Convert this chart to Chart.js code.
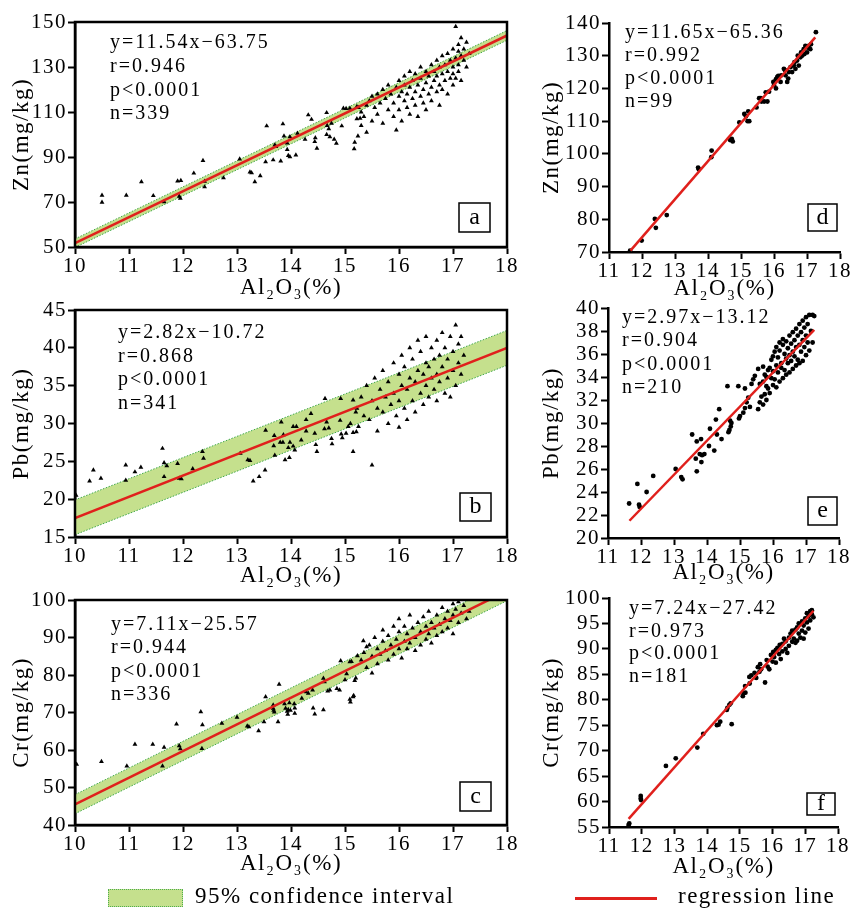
<!DOCTYPE html>
<html>
<head>
<meta charset="utf-8">
<script src="https://cdn.jsdelivr.net/npm/chart.js@4.4.1/dist/chart.umd.min.js"></script>
<style>
  body { margin: 0; background: #fff; width: 853px; height: 911px; position: relative; overflow: hidden; font-family: "Liberation Serif", "Times New Roman", serif; }
  canvas { position: absolute; }
  .key-text { position: absolute; font-size: 23px; letter-spacing: 1.5px; color: #000; white-space: nowrap; }
</style>
</head>
<body>
<canvas id="chartA" width="525" height="306" style="left:0;top:2px"></canvas>
<canvas id="chartB" width="525" height="306" style="left:0;top:290px"></canvas>
<canvas id="chartC" width="525" height="304" style="left:0;top:580px"></canvas>
<canvas id="chartD" width="323" height="306" style="left:530px;top:3px"></canvas>
<canvas id="chartE" width="323" height="305" style="left:530px;top:288px"></canvas>
<canvas id="chartF" width="323" height="309" style="left:530px;top:578px"></canvas>

<div style="position:absolute;left:108px;top:889px;width:73px;height:16px;background:#c5e08d;border:1px dotted #4fae4f"></div>
<div class="key-text" style="left:195px;top:883px">95% confidence interval</div>
<div style="position:absolute;left:575px;top:897px;width:82px;height:3px;background:#e0201c"></div>
<div class="key-text" style="left:678px;top:883px">regression line</div>

<script>
// ---- data: [Al2O3 %, metal mg/kg] ----
const xTitle = "Al\u2082O\u2083(%)";

// (a) Zn, all samples
const znAll = [
  [10.5,73],[10.5,69.9],[10.95,73],[11.23,79],[11.45,72.8],[11.65,70.1],[11.9,79.3],[11.96,79.5],[11.95,71.6],[11.93,72.5],
  [12.2,82.8],[12.37,88.4],[12.4,79.2],[12.4,76.7],[12.75,80.7],[13.05,89.1],[13.24,83.3],[13.27,83],[13.33,79],[13.43,81.6],
  [13.55,103.8],[13.53,87.9],[13.67,88.7],[13.7,95.3],[13.72,94.6],[13.81,88.2],[13.85,104.7],[13.87,99.3],[13.93,96.2],[13.93,93.3],
  [13.95,90.6],[13.98,99],[13.98,90.1],[14.09,90.9],[14.12,100.5],[14.26,97.9],[14.32,108.7],[14.38,106.7],[14.44,96.8],[14.48,93.9],
  [14.45,98.5],[14.66,109.7],[14.67,104],[14.66,100],[14.72,99],[14.8,97.9],[14.84,96.1],[14.94,103.8],[14.97,111.6],[15.02,111.5],
  [15.09,111.6],[15.17,93.6],[15.18,96.5],[15.22,112.4],[15.24,99.3],[15.28,107.2],[15.22,107],[14.7,102.5],[14.75,105],
  [15.25,112],[15.3,110],[15.35,108],[15.4,113],[15.45,115],[15.3,104],[15.4,101],[15.5,106],[15.5,117],
  [15.55,112],[15.6,118],[15.6,109],[15.65,114],[15.7,120],[15.7,105],[15.75,116],[15.8,111],[15.8,122],[15.85,118],
  [15.9,108],[15.9,114],[15.95,121],[15.95,102],[16.0,117],[16.0,111],[16.0,124],
  [16.05,119],[16.05,106],[16.1,115],[16.1,122],[16.1,126],[16.15,112],[16.15,118],[16.2,121],[16.2,109],[16.2,128],
  [16.25,116],[16.25,124],[16.3,119],[16.3,113],[16.3,127],[16.35,122],[16.35,108],[16.4,117],[16.4,125],[16.4,130],
  [16.45,120],[16.45,114],[16.5,123],[16.5,128],[16.5,111],
  [16.55,118],[16.55,126],[16.6,121],[16.6,131],[16.6,115],[16.65,124],[16.65,128],[16.7,119],[16.7,133],[16.7,126],
  [16.75,122],[16.75,130],[16.75,113],[16.8,127],[16.8,135],[16.8,120],[16.85,124],[16.85,131],[16.9,128],[16.9,136],
  [16.9,118],[16.95,125],[16.95,133],[17.0,130],[17.0,138],[17.0,122],[17.0,127],
  [17.05,148],[17.05,134],[17.05,125],[17.1,140],[17.1,131],[17.1,137],[17.1,128],[17.15,135],[17.15,143],[17.15,124],
  [17.2,138],[17.2,133],[17.25,141],[17.25,130],[17.3,136]
];
const znAllLine = [[10, 51.7], [18, 144.0]];
const znAllUpper = [[10, 53.6], [18, 146.2]];
const znAllLower = [[10, 49.8], [18, 141.9]];

// (b) Pb, all samples
const pbAll = [
  [10.02,20.5],[10.27,22.4],[10.34,23.85],[10.48,22.75],[10.94,24.5],[10.94,22.5],[11.11,23.6],[11.22,24.2],[11.62,26.7],[11.65,24.8],
  [11.65,22.97],[11.7,24.4],[11.9,24.7],[11.93,22.75],[11.97,22.7],[12.18,24],[12.36,26.3],[12.38,25.4],[13.06,26.06],[13.2,25.2],
  [13.24,25.1],[13.3,22.4],[13.41,22.97],[13.52,23.85],[13.53,29.1],[13.69,28.4],[13.68,27.05],[13.7,25.8],[13.82,30.2],[13.8,27.5],
  [13.85,27.5],[13.86,28.5],[13.89,25.2],[13.95,26.8],[13.97,25.5],[13.98,27.5],[14.04,27.0],[14.07,26.5],[14.1,29.6],[14.04,29.6],
  [14.19,27.8],[14.28,30.5],[14.37,31.3],[14.28,29.0],[14.44,28.7],[14.46,27.2],[14.48,26.3],[14.63,33.3],[14.66,30.2],[14.7,29.4],
  [14.62,29.3],[14.75,28.0],[14.76,27.3],[14.91,30.4],[14.93,28.6],[14.95,28.1],[14.92,33.3],[15.06,29.6],[15.15,33.1],[15.15,26.3],
  [15.15,28.8],[15.2,31.5],[15.22,32],[15.25,29.6],[15.21,28.9],[15.1,30.0],[15.02,28.7],
  [15.3,33.5],[15.35,31],[15.4,35],[15.45,30.5],[15.5,33],[15.5,24.5],[15.55,36],[15.6,32],[15.6,29],[15.65,34.5],
  [15.7,31.5],[15.7,37],[15.75,33.5],[15.8,30],[15.8,35.5],[15.85,32.5],[15.9,38],[15.9,34],[15.95,31],[16.0,36.5],
  [16.0,33],[16.0,29.5],[16.05,35],[16.05,39],[16.1,32],[16.1,37.5],[16.15,34.5],[16.15,30.5],[16.2,36],[16.2,40],
  [16.25,33],[16.25,38.5],[16.3,35.5],[16.3,31.5],[16.35,37],[16.35,41],[16.4,34],[16.4,39.5],[16.45,36.5],[16.45,32.5],
  [16.5,38],[16.5,35],[16.5,41.5],[16.55,33.5],[16.55,37.5],[16.6,40],[16.6,36],[16.65,34.5],[16.65,38.5],[16.7,41],
  [16.7,36.5],[16.7,33],[16.75,39],[16.75,35.5],[16.8,37.5],[16.8,42],[16.85,34],[16.85,40],[16.9,38.5],[16.9,36],
  [16.95,41.5],[16.95,33.5],[17.0,39.5],[17.0,37],[17.05,43],[17.05,35],[17.1,40.5],[17.1,38],[17.15,41.5],[17.15,36.5],[17.2,39]
];
const pbAllLine = [[10, 17.5], [18, 40.0]];
const pbAllUpper = [[10, 19.9], [18, 42.3]];
const pbAllLower = [[10, 15.3], [18, 37.7]];

// (c) Cr, all samples
const crAll = [
  [10.03,56.2],[10.49,56.9],[10.96,55.7],[11.11,61.5],[11.44,61.5],[11.65,60.7],[11.62,55.7],[11.88,66.9],[11.93,61.1],[11.95,60.3],
  [12.33,70.2],[12.36,66.7],[12.35,60.4],[12.72,67.1],[13.0,68.7],[13.19,66.4],[13.22,66.2],[13.4,65.1],[13.5,67.5],[13.53,74.2],
  [13.67,71.1],[13.68,70.6],[13.69,70.1],[13.67,72.0],[13.78,77.5],[13.76,67.5],[13.88,72.3],[13.9,71.1],[13.93,70.3],[13.95,70.8],
  [13.97,72.6],[13.94,69.5],[13.99,70.6],[14.06,72.3],[14.07,71.2],[14.07,69.8],[14.2,73.8],[14.28,75.5],[14.32,75.1],[14.41,71.2],
  [14.44,69.6],[14.4,76],[14.6,70.7],[14.6,79.1],[14.62,78.2],[14.68,75.7],[14.72,76],[14.85,76.4],[14.9,76.0],[14.92,83.8],
  [15.0,78.7],[15.09,73.5],[15.15,74.2],[15.09,83.5],[15.18,78.5],[15.2,79.2],[15.03,80.3],[15.12,83.6],[15.23,85.1],[15.34,89.1],
  [15.4,87.5],[15.16,74.5],[15.1,72.8],
  [15.3,84],[15.35,86],[15.4,82],[15.45,88],[15.5,85],[15.5,80.5],[15.55,90],[15.6,87],[15.6,83],[15.65,85.5],
  [15.7,89],[15.7,92],[15.75,86.5],[15.8,84],[15.8,90.5],[15.85,88],[15.9,93],[15.9,85.5],[15.95,89.5],[16.0,87],
  [16.0,91.5],[16.0,95],[16.05,84.5],[16.1,89],[16.1,93],[16.15,87],[16.15,91],[16.2,96],[16.2,88.5],[16.25,92.5],
  [16.3,90],[16.3,86.5],[16.35,94],[16.4,91.5],[16.4,88],[16.45,95.5],[16.5,93],[16.5,89.5],[16.55,97],[16.55,91],
  [16.6,94],[16.6,88.5],[16.65,92.5],[16.7,96],[16.7,90.5],[16.75,93.5],[16.8,98],[16.8,91.5],[16.85,95],[16.9,92.5],
  [16.9,97],[16.95,94.5],[17.0,99],[17.0,96],[17.0,91],[17.05,97.5],[17.1,94],[17.1,99.5],[17.15,96.5],[17.2,98.5],
  [17.25,95],[17.3,97]
];
const crAllLine = [[10, 45.5], [18, 102.4]];
const crAllUpper = [[10, 48.1], [18, 105.0]];
const crAllLower = [[10, 43.0], [18, 99.8]];

// (d) Zn, subset
const znSub = [
  [11.64,70.4],[11.99,73.5],[12.39,80.1],[12.42,77.4],[12.75,81.3],[13.7,95.8],[13.72,95.3],[14.11,101],[14.1,99],[14.67,104.2],
  [14.72,104.6],[14.75,103.8],[14.95,109.6],[15.1,112.2],[15.15,111.5],[15.2,110],[15.22,113],[15.25,110],[15.47,114.2],[15.55,117],
  [15.6,117],[15.62,116],[15.7,116],[15.75,118.8],[15.8,116],[15.85,119],[15.98,122],[16.0,121],[16.06,120],[16.06,122.8],
  [16.1,123.5],[16.13,123.8],[16.2,122],[16.22,124],[16.3,126],[16.33,125.6],[16.35,124],[16.4,122],[16.43,123],[16.45,125],
  [16.5,126.5],[16.55,125],[16.6,127],[16.62,128],[16.65,126],[16.7,128.5],[16.72,130],[16.75,127],[16.8,129.5],[16.82,131],
  [16.85,130],[16.9,132],[16.92,130.5],[16.95,133],[17.0,131],[17.02,132.5],[17.05,133],[17.1,132],[17.12,133.5],[17.27,137.2]
];
const znSubLine = [[11.65, 70.4], [17.25, 135.6]];

// (e) Pb, subset
const pbSub = [
  [11.64,23.0],[11.89,24.7],[11.94,22.9],[11.96,22.7],[12.17,24.0],[12.37,25.4],[13.05,26.0],[13.22,25.3],[13.26,25.1],[13.55,29.0],
  [13.69,28.4],[13.66,26.9],[13.69,25.8],[13.78,27.3],[13.85,27.2],[13.92,27.3],[13.83,26.6],[13.82,28.6],[14.09,29.5],[14.06,28.0],
  [14.22,27.6],[14.3,29.0],[14.27,30.3],[14.37,31.2],[14.44,28.6],[14.62,33.2],[14.65,29.2],[14.68,29.4],[14.72,29.7],[14.7,30.2],
  [14.74,30.0],[14.95,33.2],[14.97,30.4],[15.0,30.6],[15.1,30.9],[15.15,31.3],[15.2,31.8],[15.25,32.2],[15.15,33.0],[15.3,31.4],
  [15.35,33.4],[15.4,33.8],[15.45,34.1],[15.55,34.7],[15.7,34.9],
  [15.55,31.2],[15.6,31.8],[15.65,32.3],[15.7,31.6],[15.75,32.5],[15.8,32.0],[15.85,33.0],[15.9,32.6],[16.0,33.3],[16.1,33.1],
  [16.2,33.6],[16.3,33.9],[16.4,34.2],[16.5,34.4],[16.6,34.7],[16.7,35.0],[16.8,35.2],[16.9,35.4],[17.0,35.9],[17.1,36.3],[17.2,37.0],
  [15.8,34.0],[15.9,34.8],[15.95,35.5],[16.0,35.8],[16.05,36.2],[16.1,35.0],[16.1,36.6],[16.15,35.7],[16.2,36.3],[16.2,37.0],
  [16.25,35.2],[16.3,36.8],[16.3,37.3],[16.35,36.0],[16.4,37.1],[16.4,35.6],[16.45,36.5],[16.5,37.6],[16.5,35.9],[16.55,36.9],
  [16.6,37.9],[16.6,36.2],[16.65,37.2],[16.7,38.2],[16.7,36.6],[16.75,37.6],[16.8,38.6],[16.8,36.8],[16.85,37.9],[16.9,38.9],
  [16.9,37.2],[16.95,38.3],[17.0,39.2],[17.0,37.6],[17.05,38.6],[17.1,39.4],[17.15,38.0],[17.2,39.4],[17.25,39.3],
  [15.6,33.4],[15.7,33.6],[15.75,34.2],[15.8,33.2],[15.85,34.6],[15.95,33.9],[16.0,34.5],[16.05,33.8],[16.15,34.4],[16.25,34.8],
  [16.35,34.6],[16.45,35.2],[16.55,35.4],[16.65,35.8],[16.75,35.5],[16.85,36.2],[16.95,36.6],[17.05,37.0]
];
const pbSubLine = [[11.65, 21.5], [17.25, 38.1]];

// (f) Cr, subset
const crSub = [
  [11.62,55.7],[11.6,55.4],[11.97,61.1],[11.97,60.6],[11.98,60.3],[12.74,67.0],[13.04,68.5],[13.7,70.6],[13.88,73.3],[14.3,75.0],
  [14.35,75.1],[14.4,75.7],[14.75,75.2],[14.62,78.4],[14.68,79.0],[14.72,79.3],[14.6,78.0],[15.09,80.7],[15.12,81.3],[15.16,82.7],
  [15.17,81.4],[15.29,84.5],[15.3,83.2],[15.35,84.8],[15.45,85.3],[15.5,84.3],[15.55,86.4],[15.6,85.5],[15.62,87.0],[15.65,86.0],
  [15.77,83.4],[15.82,87.8],[15.85,86.5],[15.9,86.0],[15.95,88.8],[16.0,87.5],[16.02,89.4],[16.05,88.4],[16.1,89.8],[16.1,87.3],
  [16.15,90.2],[16.2,89.0],[16.22,90.8],[16.25,88.0],[16.3,91.0],[16.3,89.5],[16.35,92.0],[16.4,90.0],[16.4,91.5],[16.45,89.2],
  [16.5,92.2],[16.5,90.6],[16.55,93.0],[16.6,91.4],[16.6,93.6],[16.65,92.0],[16.7,93.8],[16.7,91.2],[16.75,94.2],[16.8,93.0],
  [16.8,95.0],[16.85,92.2],[16.9,95.4],[16.9,93.6],[16.95,94.6],[16.95,92.0],[17.0,96.0],[17.0,93.2],[17.05,95.2],[17.05,97.0],
  [17.1,96.4],[17.1,94.0],[17.15,97.4],[17.15,95.6],[17.2,96.8],[17.2,97.6],[17.25,96.2],[16.75,91.6]
];
const crSubLine = [[11.6, 56.6], [17.25, 97.5]];

Chart.defaults.font.family = '"Liberation Serif", "Times New Roman", serif';
Chart.defaults.color = "#000";
Chart.defaults.animation = false;

const toXY = (arr) => arr.map(([x, y]) => ({ x, y }));

// letter spacing like the printed figure, plus frame, stats text and panel tag
const panelDecor = {
  id: "panelDecor",
  beforeDraw(chart) {
    chart.ctx.letterSpacing = "1.5px";
  },
  afterDraw(chart, args, opts) {
    const ctx = chart.ctx;
    const { left, top, right, bottom } = chart.chartArea;
    ctx.save();
    ctx.strokeStyle = "#000";
    if (opts.frame) {
      ctx.lineWidth = 2.5;
      ctx.strokeRect(left, top, right - left, bottom - top);
    }
    ctx.fillStyle = "#000";
    ctx.font = '20px "Liberation Serif"';
    ctx.letterSpacing = "2px";
    ctx.textAlign = "left";
    ctx.textBaseline = "alphabetic";
    opts.notes.forEach((t, i) => ctx.fillText(t, opts.noteX, opts.noteY + i * opts.noteGap));

    const [bx, by, bw, bh] = opts.tagBox;
    ctx.fillStyle = "#fff";
    ctx.fillRect(bx, by, bw, bh);
    ctx.lineWidth = 1.5;
    ctx.strokeRect(bx, by, bw, bh);
    ctx.fillStyle = "#000";
    ctx.letterSpacing = "0px";
    ctx.font = '24px "Liberation Serif"';
    ctx.textAlign = "center";
    ctx.textBaseline = "middle";
    ctx.fillText(opts.tag, bx + bw / 2, by + bh / 2);
    ctx.restore();
  },
};

function makePanel(id, cfg) {
  const datasets = [
    {
      type: "line",
      data: toXY(cfg.line),
      borderColor: "#e0201c",
      borderWidth: 2.5,
      pointRadius: 0,
      fill: false,
    },
    {
      type: "scatter",
      data: toXY(cfg.points),
      pointStyle: cfg.marker,
      pointRadius: cfg.marker === "triangle" ? 2.8 : 2.4,
      backgroundColor: "#000",
      borderColor: "#000",
      borderWidth: 0,
    },
  ];
  if (cfg.upper) {
    datasets.push(
      {
        type: "line",
        data: toXY(cfg.lower),
        borderColor: "#3fa84a",
        borderWidth: 1,
        borderDash: [1.5, 1.5],
        pointRadius: 0,
        fill: false,
      },
      {
        type: "line",
        data: toXY(cfg.upper),
        borderColor: "#3fa84a",
        borderWidth: 1,
        borderDash: [1.5, 1.5],
        pointRadius: 0,
        fill: "-1",
        backgroundColor: "#c5e08d",
      }
    );
  }

  const tickGrid = { drawOnChartArea: false, tickLength: 7, tickWidth: 2, tickColor: "#000" };

  return new Chart(document.getElementById(id), {
    type: "scatter",
    data: { datasets },
    options: {
      responsive: false,
      layout: { padding: { top: 20, right: cfg.padRight, bottom: 0, left: 0 } },
      plugins: {
        legend: { display: false },
        tooltip: { enabled: false },
        panelDecor: {
          frame: cfg.frame,
          notes: cfg.notes,
          noteX: cfg.noteX,
          noteY: cfg.noteY,
          noteGap: cfg.noteGap,
          tag: cfg.tag,
          tagBox: cfg.tagBox,
        },
      },
      scales: {
        x: {
          type: "linear",
          min: cfg.xMin,
          max: 18,
          ticks: { stepSize: 1, padding: 0, font: { size: 21 }, maxRotation: 0, autoSkip: false },
          grid: tickGrid,
          border: { color: "#000", width: 2.5 },
          title: { display: true, text: xTitle, font: { size: 23 }, padding: { top: 0, bottom: 6.2 } },
          afterFit: (s) => { s.height = cfg.xH; },
        },
        y: {
          type: "linear",
          min: cfg.yMin,
          max: cfg.yMax,
          ticks: { stepSize: cfg.yStep, padding: 1, font: { size: 21 }, autoSkip: false },
          grid: tickGrid,
          border: { color: "#000", width: 2.5 },
          title: { display: true, text: cfg.yTitle, font: { size: 23 }, padding: { top: 8.2, bottom: 0 } },
          afterFit: (s) => { s.width = cfg.yW; },
        },
      },
    },
    plugins: [panelDecor],
  });
}

makePanel("chartA", {
  points: znAll, line: znAllLine, upper: znAllUpper, lower: znAllLower, marker: "triangle",
  xMin: 10, yMin: 50, yMax: 150, yStep: 20, yTitle: "Zn(mg/kg)",
  yW: 75, xH: 61, padRight: 18, frame: true,
  notes: ["y=11.54x\u221263.75", "r=0.946", "p<0.0001", "n=339"], noteX: 110, noteY: 46, noteGap: 23.8,
  tag: "a", tagBox: [459, 201, 31, 29],
});
makePanel("chartB", {
  points: pbAll, line: pbAllLine, upper: pbAllUpper, lower: pbAllLower, marker: "triangle",
  xMin: 10, yMin: 15, yMax: 45, yStep: 5, yTitle: "Pb(mg/kg)",
  yW: 75, xH: 59, padRight: 18, frame: true,
  notes: ["y=2.82x\u221210.72", "r=0.868", "p<0.0001", "n=341"], noteX: 118, noteY: 48, noteGap: 23.7,
  tag: "b", tagBox: [460, 203, 31, 28],
});
makePanel("chartC", {
  points: crAll, line: crAllLine, upper: crAllUpper, lower: crAllLower, marker: "triangle",
  xMin: 10, yMin: 40, yMax: 100, yStep: 10, yTitle: "Cr(mg/kg)",
  yW: 75, xH: 59, padRight: 18, frame: true,
  notes: ["y=7.11x\u221225.57", "r=0.944", "p<0.0001", "n=336"], noteX: 111, noteY: 50, noteGap: 23.4,
  tag: "c", tagBox: [460, 202, 31, 29],
});
makePanel("chartD", {
  points: znSub, line: znSubLine, marker: "circle",
  xMin: 11, yMin: 70, yMax: 140, yStep: 10, yTitle: "Zn(mg/kg)",
  yW: 79, xH: 57, padRight: 13, frame: false,
  notes: ["y=11.65x\u221265.36", "r=0.992", "p<0.0001", "n=99"], noteX: 95, noteY: 35, noteGap: 23,
  tag: "d", tagBox: [278, 201, 29, 27],
});
makePanel("chartE", {
  points: pbSub, line: pbSubLine, marker: "circle",
  xMin: 11, yMin: 20, yMax: 40, yStep: 2, yTitle: "Pb(mg/kg)",
  yW: 78, xH: 55, padRight: 14, frame: false,
  notes: ["y=2.97x\u221213.12", "r=0.904", "p<0.0001", "n=210"], noteX: 92, noteY: 35, noteGap: 23.3,
  tag: "e", tagBox: [278, 209, 29, 28],
});
makePanel("chartF", {
  points: crSub, line: crSubLine, marker: "circle",
  xMin: 11, yMin: 55, yMax: 100, yStep: 5, yTitle: "Cr(mg/kg)",
  yW: 79, xH: 60, padRight: 15, frame: false,
  notes: ["y=7.24x\u221227.42", "r=0.973", "p<0.0001", "n=181"], noteX: 99, noteY: 36, noteGap: 22.7,
  tag: "f", tagBox: [277, 215, 28, 22],
});
</script>
</body>
</html>
